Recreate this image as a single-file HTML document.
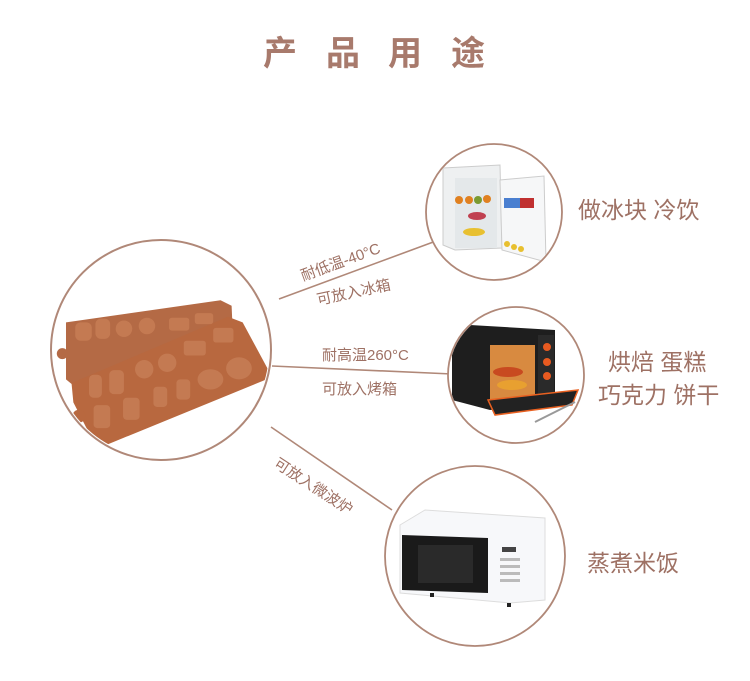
<!DOCTYPE html>
<html><head><meta charset="utf-8"><style>
html,body{margin:0;padding:0;background:#fff;}
svg{display:block;}
text{font-family:"Liberation Sans","Noto Sans CJK SC",sans-serif;fill:#9e7164;}
</style></head><body>
<svg width="750" height="681" viewBox="0 0 750 681" xmlns="http://www.w3.org/2000/svg">
<defs>
<clipPath id="c1"><circle cx="161" cy="350" r="108"/></clipPath>
<clipPath id="c2"><circle cx="494" cy="212" r="67"/></clipPath>
<clipPath id="c3"><circle cx="516" cy="375" r="67"/></clipPath>
</defs>
<g font-size="34" font-weight="bold">
<text x="263" y="65" style="fill:#a87a6c">产</text>
<text x="326" y="65" style="fill:#a87a6c">品</text>
<text x="388" y="65" style="fill:#a87a6c">用</text>
<text x="451" y="65" style="fill:#a87a6c">途</text>
</g>
<g stroke="#b08878" stroke-width="1.6" fill="none">
<line x1="279" y1="299" x2="436" y2="241"/>
<line x1="272" y1="366" x2="452" y2="374"/>
<line x1="271" y1="427" x2="392" y2="510"/>
</g>
<circle cx="161" cy="350" r="110" fill="#fff" stroke="#b08878" stroke-width="2"/>
<g clip-path="url(#c1)">
<g transform="translate(158 372) scale(0.92) translate(-170 -372)">
<path d="M70 318 L238 294 L250 300 L252 345 L82 390 L70 380 Z" fill="#b46a45"/>
<circle cx="66" cy="352" r="6" fill="#b46a45"/>
<path d="M76 384 L246 312 L262 318 L290 370 L288 380 L112 452 L102 452 L78 405 Z" fill="#b8683f"/>
<circle cx="84" cy="420" r="7" fill="#b8683f"/>
<g fill="#c47a52">
<rect x="80" y="318" width="18" height="20" rx="6"/><rect x="102" y="314" width="16" height="22" rx="6"/>
<circle cx="133" cy="325" r="9"/><circle cx="158" cy="322" r="9"/>
<rect x="182" y="313" width="22" height="14" rx="3"/><rect x="210" y="308" width="20" height="12" rx="3"/>
<rect x="95" y="375" width="14" height="25" rx="5"/><rect x="117" y="370" width="16" height="26" rx="5"/>
<circle cx="155" cy="369" r="10"/><circle cx="180" cy="362" r="10"/>
<rect x="198" y="338" width="24" height="16" rx="3"/><rect x="230" y="324" width="22" height="16" rx="3"/>
<rect x="100" y="408" width="18" height="25" rx="4"/><rect x="132" y="400" width="18" height="24" rx="4"/>
<rect x="165" y="388" width="15" height="22" rx="4"/><rect x="190" y="380" width="15" height="22" rx="4"/>
<ellipse cx="227" cy="380" rx="14" ry="11"/><ellipse cx="258" cy="368" rx="14" ry="12"/>
</g>
</g>
</g>
<text x="303" y="281" font-size="15" transform="rotate(-20 303 281)">耐低温-40°C</text>
<text x="318" y="305" font-size="15" transform="rotate(-12 318 305)">可放入冰箱</text>
<text x="322" y="360" font-size="15">耐高温260°C</text>
<text x="322" y="394" font-size="15">可放入烤箱</text>
<text x="273" y="466" font-size="15" transform="rotate(33 273 466)">可放入微波炉</text>
<circle cx="494" cy="212" r="68" fill="#fff" stroke="#b08878" stroke-width="1.8"/>
<g clip-path="url(#c2)">
<path d="M443 168 L500 165 L502 248 L455 250 L443 245 Z" fill="#eef0f1" stroke="#ccc"/>
<rect x="455" y="178" width="42" height="70" fill="#e4e8ea"/>
<path d="M500 180 L544 176 L546 262 L502 250 Z" fill="#f6f7f8" stroke="#ccc"/>
<rect x="504" y="198" width="30" height="10" fill="#4a7fd0"/>
<rect x="520" y="198" width="14" height="10" fill="#c03030"/>
<circle cx="459" cy="200" r="4" fill="#e08020"/><circle cx="469" cy="200" r="4" fill="#e08020"/><circle cx="478" cy="200" r="4" fill="#7a9a30"/><circle cx="487" cy="199" r="4" fill="#e08020"/>
<ellipse cx="477" cy="216" rx="9" ry="4" fill="#c04050"/>
<ellipse cx="474" cy="232" rx="11" ry="4" fill="#e8c030"/>
<circle cx="507" cy="244" r="3" fill="#e8c030"/><circle cx="514" cy="247" r="3" fill="#e8c030"/><circle cx="521" cy="249" r="3" fill="#e8c030"/>
</g>
<text x="578" y="218" font-size="23">做冰块 冷饮</text>
<circle cx="516" cy="375" r="68" fill="#fff" stroke="#b08878" stroke-width="1.8"/>
<g clip-path="url(#c3)">
<path d="M452 335 L470 325 L555 330 L555 405 L490 410 L452 400 Z" fill="#1e1e1e"/>
<rect x="490" y="345" width="45" height="55" fill="#d88a40"/>
<ellipse cx="508" cy="372" rx="15" ry="5" fill="#c84a20"/>
<ellipse cx="512" cy="385" rx="15" ry="5" fill="#e8a030"/>
<rect x="538" y="335" width="16" height="60" fill="#2a2a2a"/>
<circle cx="547" cy="347" r="4" fill="#e85a20"/><circle cx="547" cy="362" r="4" fill="#e85a20"/><circle cx="547" cy="376" r="4" fill="#e85a20"/>
<path d="M488 400 L578 390 L572 405 L495 415 Z" fill="#222" stroke="#e86020" stroke-width="1.5"/>
<line x1="535" y1="422" x2="575" y2="402" stroke="#999" stroke-width="2"/>
</g>
<text x="608" y="370" font-size="23">烘焙 蛋糕</text>
<text x="598" y="403" font-size="23">巧克力 饼干</text>
<circle cx="475" cy="556" r="90" fill="#fff" stroke="#b08878" stroke-width="1.8"/>
<g>
<path d="M400 525 L425 510 L545 518 L545 600 L510 603 L400 593 Z" fill="#f7f8fa" stroke="#ddd"/>
<path d="M402 535 L488 538 L488 593 L402 590 Z" fill="#1a1a1a"/>
<rect x="418" y="545" width="55" height="38" fill="#2a2a2a"/>
<rect x="502" y="547" width="14" height="5" fill="#444"/>
<g fill="#bbb"><rect x="500" y="558" width="20" height="3"/><rect x="500" y="565" width="20" height="3"/><rect x="500" y="572" width="20" height="3"/><rect x="500" y="579" width="20" height="3"/></g>
<rect x="430" y="593" width="4" height="4" fill="#222"/><rect x="507" y="603" width="4" height="4" fill="#222"/>
</g>
<text x="587" y="571" font-size="23">蒸煮米饭</text>
</svg>
</body></html>
